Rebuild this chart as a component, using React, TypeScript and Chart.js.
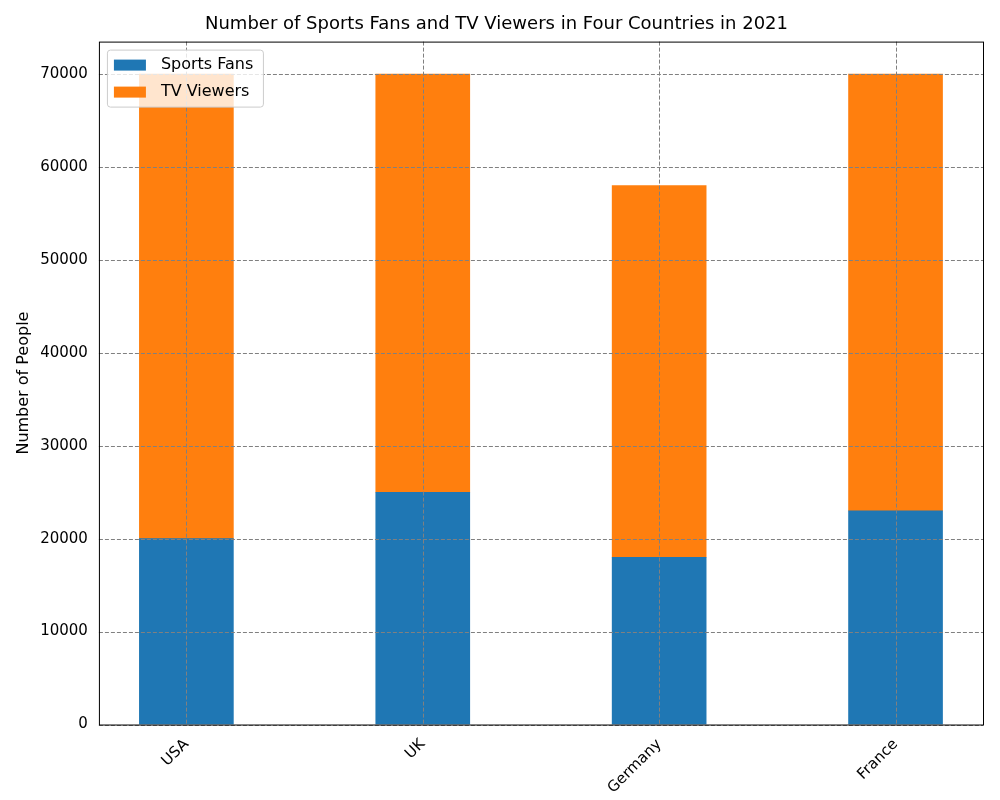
import { useEffect, useRef } from "react";
import { Chart, registerables } from "chart.js";

Chart.register(...registerables);

const countries = ["USA", "UK", "Germany", "France"];
const sportsFans = [20000, 25000, 18000, 23000];
const tvViewers = [50000, 45000, 40000, 47000];
const yTicks = [0, 10000, 20000, 30000, 40000, 50000, 60000, 70000];

const FONT = "'DejaVu Sans', sans-serif";

// matplotlib-style: dashed grid over bars, box frame, legend inside plot
const overlay = {
  id: "overlay",
  afterDatasetsDraw(chart: Chart) {
    const { ctx, chartArea: a, scales } = chart;
    const x = scales.x;
    const y = scales.y;
    ctx.save();
    ctx.strokeStyle = "#808080";
    ctx.lineWidth = 1;
    ctx.setLineDash([4, 2]);
    yTicks.forEach((v) => {
      const py = Math.round(y.getPixelForValue(v)) + 0.5;
      ctx.beginPath();
      ctx.moveTo(a.left, py);
      ctx.lineTo(a.right, py);
      ctx.stroke();
    });
    countries.forEach((_, i) => {
      const px = Math.round(x.getPixelForValue(i)) + 0.5;
      ctx.beginPath();
      ctx.moveTo(px, a.top);
      ctx.lineTo(px, a.bottom);
      ctx.stroke();
    });
    ctx.setLineDash([]);
    ctx.strokeStyle = "#000";
    ctx.strokeRect(a.left + 0.5, a.top + 0.5, a.width, a.height);

    // legend
    const lx = a.left + 8;
    const ly = a.top + 8;
    ctx.fillStyle = "rgba(255,255,255,0.8)";
    ctx.strokeStyle = "#cccccc";
    ctx.beginPath();
    ctx.roundRect(lx + 0.5, ly + 0.5, 156, 57, 3);
    ctx.fill();
    ctx.stroke();
    ctx.font = `16px ${FONT}`;
    ctx.textBaseline = "middle";
    chart.data.datasets.forEach((ds, i) => {
      const ry = ly + 15 + i * 27;
      ctx.fillStyle = ds.backgroundColor as string;
      ctx.fillRect(lx + 7, ry - 5, 32, 11);
      ctx.fillStyle = "#000";
      ctx.fillText(ds.label as string, lx + 54, ry);
    });
    ctx.restore();
  },
};

export default function App() {
  const canvasRef = useRef<HTMLCanvasElement>(null);
  const chartRef = useRef<Chart | null>(null);

  useEffect(() => {
    document.body.style.margin = "0";
    if (!canvasRef.current) return;
    if (chartRef.current) chartRef.current.destroy();

    chartRef.current = new Chart(canvasRef.current, {
      type: "bar",
      data: {
        datasets: [
          {
            label: "Sports Fans",
            data: sportsFans.map((v, i) => ({ x: i, y: v })),
            backgroundColor: "#1f77b4",
            barThickness: 94,
          },
          {
            label: "TV Viewers",
            data: tvViewers.map((v, i) => ({ x: i, y: v })),
            backgroundColor: "#ff7f0e",
            barThickness: 94,
          },
        ],
      },
      plugins: [overlay],
      options: {
        animation: false,
        responsive: false,
        layout: { padding: { top: 0, right: 17, left: 10, bottom: 0 } },
        plugins: {
          legend: { display: false },
          tooltip: { enabled: false },
          title: {
            display: true,
            text: "Number of Sports Fans and TV Viewers in Four Countries in 2021",
            color: "#000",
            font: { family: FONT, size: 18, weight: "normal" },
            padding: { top: 14, bottom: 6 },
          },
        },
        scales: {
          x: {
            type: "linear",
            stacked: true,
            min: -0.37,
            max: 3.37,
            offset: false,
            grid: { display: false, drawTicks: true },
            border: { display: false },
            afterBuildTicks: (axis: any) => {
              axis.ticks = countries.map((_, i) => ({ value: i }));
            },
            ticks: {
              color: "#000",
              font: { family: FONT, size: 15 },
              maxRotation: 45,
              minRotation: 45,
              callback: (v: any) => countries[v as number] ?? "",
            },
          },
          y: {
            stacked: true,
            min: 0,
            max: 73500,
            grid: { display: false },
            border: { display: false },
            afterBuildTicks: (axis: any) => {
              axis.ticks = yTicks.map((v) => ({ value: v }));
            },
            ticks: {
              color: "#000",
              font: { family: FONT, size: 15 },
              callback: (v: any) => String(v),
            },
            title: {
              display: true,
              text: "Number of People",
              color: "#000",
              font: { family: FONT, size: 16 },
            },
          },
        },
      },
    });

    return () => {
      chartRef.current?.destroy();
    };
  }, []);

  return <canvas ref={canvasRef} width={1000} height={800} />;
}
